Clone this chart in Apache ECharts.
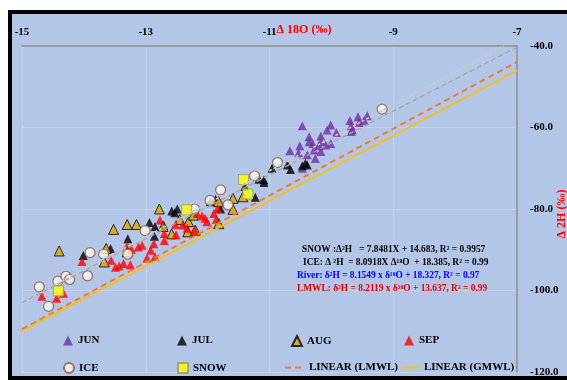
<!DOCTYPE html>
<html>
<head>
<meta charset="utf-8">
<script src="https://cdn.jsdelivr.net/npm/echarts@6/dist/echarts.min.js"></script>
<style>html,body{margin:0;padding:0;background:#fff;}#c{width:567px;height:380px;}</style>
</head>
<body>
<div id="c"></div>
<script>
// ---- data ----
const xTicks = [-15, -13, -11, -9, -7];
const yTicks = [-120, -100, -80, -60, -40];

const jun = [[-10.47,-59.6],[-10.36,-62.3],[-10.17,-62.1],[-10.07,-60.6],[-10.01,-59.4],[-9.92,-61.2],
  [-9.70,-58.3],[-9.57,-57.35],[-9.42,-57.1],[-9.66,-60.6],[-9.68,-59.6],[-9.47,-58.3],[-10.36,-63.5],
  [-10.51,-64.5],[-10.67,-65.7],[-10.53,-66.2],[-10.39,-66.7],[-10.26,-67.6],[-10.17,-65.9],[-10.20,-64.5],
  [-10.09,-64.3],[-10.01,-63.9],[-10.17,-63.5],[-10.28,-65.5],[-10.47,-70.0],[-9.68,-61.0],[-10.30,-64.0],[-9.55,-58.8]];

const jul = [[-10.42,-68.8],[-10.47,-69.4],[-10.39,-69.2],[-10.96,-70.0],[-10.71,-69.2],[-10.66,-70.3],
  [-11.09,-72.9],[-11.17,-72.7],[-11.23,-77.1],[-11.40,-74.5],[-11.87,-77.6],[-11.79,-80.0],[-12.58,-80.5],
  [-12.49,-80.0],[-12.94,-83.3],[-12.85,-84.3],[-12.86,-86.7],[-13.29,-87.3],[-13.57,-89.7],[-14.01,-91.4],
  [-11.96,-78.2],[-12.53,-80.9],[-11.09,-73.5],[-12.71,-84.0]];

const aug = [[-14.40,-90.3],[-13.52,-85.0],[-13.30,-83.8],[-13.15,-83.8],[-12.78,-80.0],[-13.64,-89.7],
  [-13.67,-93.0],[-13.30,-90.5],[-12.31,-83.1],[-12.58,-86.1],[-12.32,-85.6],[-11.82,-83.6],[-11.59,-77.4],
  [-11.59,-80.1],[-11.43,-77.0],[-11.82,-78.2],[-12.23,-81.5],[-12.45,-82.6],[-12.20,-85.2],[-12.72,-84.3]];

const sep = [[-14.68,-101.4],[-14.44,-101.9],[-14.33,-100.7],[-14.03,-92.9],[-13.56,-92.6],[-13.49,-94.3],
  [-13.43,-94.0],[-13.36,-93.4],[-13.25,-93.7],[-13.30,-89.0],[-13.23,-89.9],[-13.12,-89.3],[-13.06,-88.9],
  [-12.98,-92.0],[-12.92,-90.1],[-12.85,-91.7],[-12.87,-88.5],[-12.70,-87.7],[-12.70,-86.0],[-12.77,-82.7],
  [-12.51,-86.3],[-12.52,-83.8],[-12.40,-83.9],[-12.33,-84.7],[-12.21,-85.2],[-12.09,-81.7],[-12.04,-82.3],
  [-12.01,-83.1],[-11.90,-81.1],[-11.86,-82.5],[-11.84,-79.9],[-12.17,-81.1]];

const ice = [[-14.72,-99.1],[-14.57,-103.9],[-14.42,-97.7],[-14.29,-96.5],[-14.23,-97.3],[-13.94,-96.4],
  [-13.90,-90.7],[-13.68,-91.1],[-13.29,-91.1],[-13.01,-85.3],[-12.21,-80.0],[-11.79,-75.3],[-11.67,-79.0],
  [-11.96,-77.9],[-11.24,-71.9],[-10.87,-68.6],[-9.18,-55.5]];

const snow = [[-14.41,-100.1],[-12.34,-80.2],[-11.42,-72.8],[-11.35,-76.3]];

// trend / water lines (end points)
const lmwl = [[-15,-109.5],[-7,-43.9]];
const gmwl = [[-15,-110.0],[-7,-46.0]];
const iceFit = [[-15,-103.0],[-7.22,-40.0]];
const snowFit = [[-15,-103.0],[-7,-40.3]];

const equations = [
  {t: 'SNOW :\u0394\u00b2H   = 7.8481X + 14.683, R\u00b2 = 0.9957', c: '#000000'},
  {t: 'ICE: \u0394 \u00b2H  = 8.0918X \u0394\u00b9\u2078O  + 18.385, R\u00b2 = 0.99', c: '#000000'},
  {t: 'River: \u03b4\u00b2H = 8.1549 x \u03b4\u00b9\u2078O + 18.327, R\u00b2 = 0.97', c: '#0000ff'},
  {t: 'LMWL: \u03b4\u00b2H = 8.2119 x \u03b4\u00b9\u2078O + 13.637, R\u00b2 = 0.99', c: '#e00000'}
];

// ---- chart ----
const FONT = 'Liberation Serif';
const chart = echarts.init(document.getElementById('c'), null, {renderer: 'canvas'});

function lg(name, left, top, w, isLine) {
  return {
    data: [isLine ? {name: name, itemStyle: {opacity: 0}} : name],
    left: left, top: top, padding: 0, itemWidth: w, itemHeight: 10,
    selectedMode: false,
    textStyle: {fontFamily: FONT, fontWeight: 'bold', fontSize: 11, color: '#000'}
  };
}
const eqX = [302, 303, 297, 297];
const eqY = [250, 263, 276, 289];

const option = {
  backgroundColor: '#ffffff',
  animation: false,
  graphic: [
    {type: 'rect', z: -100, silent: true,
     shape: {x: 10, y: 12, width: 600, height: 366},
     style: {fill: '#b4c6e7', stroke: '#000000', lineWidth: 4}}
  ].concat(equations.map((e, i) => ({
    type: 'text', left: eqX[i], top: eqY[i] - 5, z: 100, silent: true,
    style: {text: e.t, fill: e.c, font: 'bold 9.4px "' + FONT + '"'}
  }))),
  grid: {left: 22, right: 50, top: 46, bottom: 8, show: false, outerBoundsMode: 'none', containLabel: false},
  legend: [
    lg('JUN', 63, 335, 10), lg('JUL', 177, 335, 10), lg('AUG', 291, 335, 10), lg('SEP', 404, 335, 10),
    lg('ICE', 63, 362, 10), lg('SNOW', 177, 362, 10), lg('LINEAR (LMWL)', 284, 362, 19, true), lg('LINEAR (GMWL)', 400, 362, 18, true)
  ],
  xAxis: {
    type: 'value', position: 'top', min: xTicks[0], max: xTicks[xTicks.length - 1], interval: 2,
    name: '\u0394 18O (\u2030)', nameLocation: 'middle', nameGap: 10, nameMoveOverlap: false,
    nameTextStyle: {color: '#ff0000', fontFamily: FONT, fontWeight: 'bold', fontSize: 12, padding: [0, 0, 0, 69]},
    axisLine: {show: true, lineStyle: {color: '#8c8c8c', width: 1.5}},
    axisTick: {show: false},
    axisLabel: {margin: 8, color: '#000', fontFamily: FONT, fontWeight: 'bold', fontSize: 11,
      formatter: v => xTicks.indexOf(v) >= 0 ? String(v) : ''},
    splitLine: {show: true, lineStyle: {color: '#c3d2ec', width: 1}}
  },
  yAxis: {
    type: 'value', position: 'right', min: yTicks[0], max: yTicks[yTicks.length - 1], interval: 20,
    name: '\u0394 2H (\u2030)', nameLocation: 'middle', nameGap: 39, nameMoveOverlap: false,
    nameTextStyle: {color: '#ff0000', fontFamily: FONT, fontWeight: 'bold', fontSize: 12, padding: [0, 10, 0, 0]},
    axisLine: {show: true, lineStyle: {color: '#8c8c8c', width: 1.5}},
    axisTick: {show: false},
    axisLabel: {margin: 13, color: '#000', fontFamily: FONT, fontWeight: 'bold', fontSize: 11,
      formatter: v => v.toFixed(1)},
    splitLine: {show: true, lineStyle: {color: '#c3d2ec', width: 1}}
  },
  series: [
    {name: 'JUN', type: 'scatter', data: jun, symbol: 'triangle', symbolSize: 9,
     itemStyle: {color: '#7030a0'}},
    {name: 'JUL', type: 'scatter', data: jul, symbol: 'triangle', symbolSize: 9,
     itemStyle: {color: '#000000'}},
    {name: 'AUG', type: 'scatter', data: aug, symbol: 'triangle', symbolSize: 10,
     itemStyle: {color: '#e0a400', borderColor: '#000', borderWidth: 1}},
    {name: 'SEP', type: 'scatter', data: sep, symbol: 'triangle', symbolSize: 9,
     itemStyle: {color: '#ff0000'}},
    {name: 'ICE', type: 'scatter', data: ice, symbol: 'circle', symbolSize: 10,
     itemStyle: {color: {type: 'radial', x: 0.4, y: 0.4, r: 0.7,
       colorStops: [{offset: 0, color: '#ffffff'}, {offset: 0.6, color: '#f4f0ec'}, {offset: 1, color: '#d8c8bc'}]},
       borderColor: '#8a5a40', borderWidth: 1.2}},
    {name: 'SNOW', type: 'scatter', data: snow, symbol: 'rect', symbolSize: 10,
     itemStyle: {color: '#ffff00', borderColor: '#9a9a60', borderWidth: 1}},
    {name: 'ICE fit', type: 'line', data: iceFit, symbol: 'none', z: 5,
     lineStyle: {color: '#c8c8c8', width: 1.6, type: [3, 2]}},
    {name: 'SNOW fit', type: 'line', data: snowFit, symbol: 'none', z: 5,
     lineStyle: {color: '#a6a6a6', width: 1.3, type: [5, 3]}},
    {name: 'LINEAR (LMWL)', type: 'line', data: lmwl, symbol: 'none', z: 5,
     lineStyle: {color: '#f07c30', width: 2, type: [6, 4]}},
    {name: 'LINEAR (GMWL)', type: 'line', data: gmwl, symbol: 'none', z: 5,
     lineStyle: {color: '#ffc000', width: 1.6}}
  ]
};
chart.setOption(option);
</script>
</body>
</html>
